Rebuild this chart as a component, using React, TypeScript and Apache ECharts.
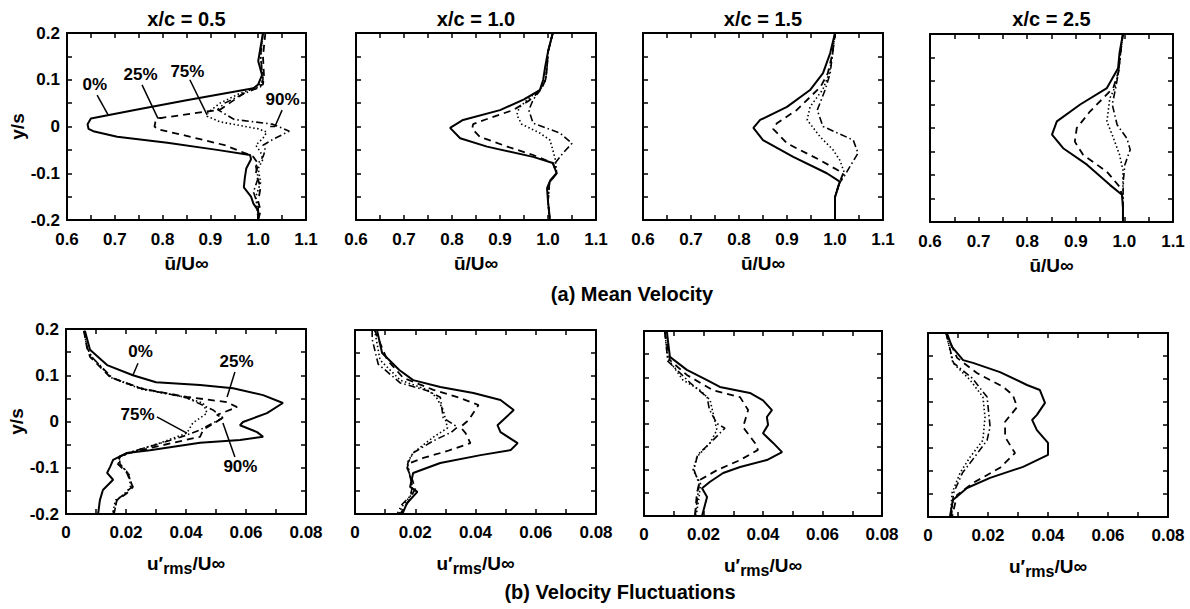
import React, { useEffect, useRef } from 'react';
import * as echarts from 'echarts';

// ---------- text / ticks ----------
const STATION_TITLES = ['x/c = 0.5', 'x/c = 1.0', 'x/c = 1.5', 'x/c = 2.5'];
const SECTION_TITLES = ['(a) Mean Velocity', '(b) Velocity Fluctuations'];
const U_TICKS = [0.6, 0.7, 0.8, 0.9, 1.0, 1.1];
const RMS_TICKS = [0, 0.02, 0.04, 0.06, 0.08];
const Y_TICKS = [-0.2, -0.1, 0, 0.1, 0.2];
const CASES = ['0%', '25%', '75%', '90%'];

// ---------- (a) mean velocity, [u/Uinf, y/s] ----------
const MEAN_05_0 = [[1.01,0.2],[1.005,0.17],[1.0,0.14],[1.008,0.11],[1.0,0.09],[0.99,0.082],[0.85,0.056],[0.75,0.037],[0.65,0.017],[0.643,0.005],[0.645,-0.005],[0.655,-0.01],[0.705,-0.022],[0.81,-0.035],[0.914,-0.05],[0.983,-0.061],[0.985,-0.07],[0.975,-0.09],[0.972,-0.11],[0.97,-0.13],[0.985,-0.15],[0.99,-0.165],[1.0,-0.18],[1.0,-0.2]];
const MEAN_05_25 = [[1.015,0.2],[1.01,0.15],[1.012,0.11],[1.01,0.09],[0.98,0.078],[0.94,0.05],[0.92,0.036],[0.85,0.026],[0.795,0.018],[0.785,0.01],[0.783,0.0],[0.79,-0.006],[0.85,-0.02],[0.93,-0.04],[0.975,-0.058],[0.99,-0.065],[1.0,-0.08],[0.995,-0.1],[1.005,-0.13],[1.0,-0.16],[1.005,-0.18],[1.0,-0.2]];
const MEAN_05_75 = [[1.01,0.2],[1.005,0.15],[1.01,0.1],[1.0,0.085],[0.96,0.07],[0.92,0.05],[0.895,0.03],[0.893,0.022],[0.92,0.01],[1.0,-0.005],[1.018,-0.012],[1.01,-0.025],[0.995,-0.04],[1.005,-0.055],[1.01,-0.07],[1.0,-0.09],[1.005,-0.12],[0.995,-0.15],[1.0,-0.2]];
const MEAN_05_90 = [[1.01,0.2],[1.005,0.15],[1.01,0.1],[1.005,0.085],[0.97,0.07],[0.93,0.05],[0.915,0.036],[0.95,0.015],[1.03,0.005],[1.065,-0.01],[1.03,-0.028],[1.01,-0.04],[1.015,-0.05],[1.01,-0.065],[0.995,-0.085],[1.0,-0.11],[0.99,-0.14],[1.0,-0.17],[1.0,-0.2]];

const MEAN_10_0 = [[1.01,0.2],[1.0,0.16],[0.994,0.127],[0.99,0.1],[0.983,0.078],[0.95,0.058],[0.9,0.035],[0.823,0.014],[0.796,-0.003],[0.817,-0.025],[0.873,-0.043],[0.969,-0.065],[1.01,-0.078],[1.018,-0.1],[1.005,-0.115],[0.998,-0.132],[1.0,-0.16],[1.002,-0.18],[1.004,-0.2]];
const MEAN_10_25 = [[1.01,0.2],[1.0,0.16],[0.998,0.127],[0.995,0.1],[0.985,0.078],[0.96,0.055],[0.927,0.035],[0.87,0.015],[0.844,0.005],[0.842,-0.005],[0.858,-0.022],[0.915,-0.043],[0.969,-0.061],[1.01,-0.078],[1.018,-0.1],[1.003,-0.12],[1.0,-0.16],[1.004,-0.2]];
const MEAN_10_75 = [[1.01,0.2],[1.0,0.16],[0.998,0.127],[0.995,0.1],[0.985,0.08],[0.963,0.063],[0.94,0.04],[0.935,0.025],[0.945,0.005],[0.983,-0.014],[1.004,-0.029],[1.01,-0.05],[1.015,-0.07],[1.018,-0.1],[1.003,-0.12],[1.0,-0.16],[1.004,-0.2]];
const MEAN_10_90 = [[1.01,0.2],[1.0,0.16],[0.998,0.127],[0.995,0.1],[0.985,0.08],[0.969,0.057],[0.96,0.035],[0.969,0.007],[1.025,-0.014],[1.05,-0.036],[1.031,-0.057],[1.015,-0.078],[1.018,-0.1],[1.003,-0.12],[1.0,-0.16],[1.004,-0.2]];

const MEAN_15_0 = [[1.0,0.2],[0.99,0.157],[0.975,0.114],[0.948,0.078],[0.9,0.042],[0.844,0.014],[0.83,-0.003],[0.85,-0.029],[0.913,-0.065],[0.983,-0.1],[1.01,-0.118],[1.0,-0.151],[1.0,-0.2]];
const MEAN_15_25 = [[1.0,0.2],[0.995,0.157],[0.985,0.114],[0.97,0.085],[0.92,0.035],[0.879,0.007],[0.871,-0.005],[0.9,-0.036],[0.969,-0.072],[1.017,-0.1],[1.01,-0.118],[1.0,-0.151],[1.0,-0.2]];
const MEAN_15_75 = [[1.0,0.2],[0.995,0.157],[0.988,0.114],[0.975,0.08],[0.948,0.042],[0.942,0.014],[0.969,-0.022],[0.996,-0.05],[1.01,-0.072],[1.02,-0.1],[1.01,-0.118],[1.0,-0.151],[1.0,-0.2]];
const MEAN_15_90 = [[1.0,0.2],[0.995,0.157],[0.99,0.114],[0.98,0.08],[0.963,0.035],[0.975,0.0],[1.038,-0.029],[1.048,-0.057],[1.031,-0.086],[1.02,-0.105],[1.01,-0.12],[1.0,-0.151],[1.0,-0.2]];

const MEAN_25_0 = [[0.997,0.2],[0.99,0.16],[0.987,0.127],[0.964,0.085],[0.909,0.05],[0.861,0.014],[0.851,-0.014],[0.874,-0.043],[0.923,-0.078],[0.97,-0.121],[0.995,-0.142],[0.997,-0.17],[0.997,-0.2]];
const MEAN_25_25 = [[0.997,0.2],[0.992,0.16],[0.988,0.12],[0.977,0.085],[0.929,0.035],[0.902,0.0],[0.898,-0.029],[0.915,-0.057],[0.964,-0.093],[0.99,-0.125],[0.997,-0.15],[0.997,-0.2]];
const MEAN_25_75 = [[0.997,0.2],[0.992,0.16],[0.988,0.12],[0.98,0.085],[0.97,0.063],[0.964,0.014],[0.977,-0.02],[0.99,-0.057],[0.997,-0.09],[0.997,-0.13],[0.997,-0.2]];
const MEAN_25_90 = [[0.997,0.2],[0.992,0.16],[0.988,0.12],[0.982,0.085],[0.975,0.05],[0.985,0.007],[1.005,-0.022],[1.012,-0.046],[1.001,-0.078],[0.998,-0.11],[0.997,-0.15],[0.997,-0.2]];

// ---------- (b) velocity fluctuations, [u'rms/Uinf, y/s] ----------
const RMS_05_0 = [[0.0063,0.196],[0.008,0.155],[0.0137,0.122],[0.0223,0.1],[0.03,0.085],[0.0447,0.079],[0.0557,0.072],[0.0657,0.057],[0.0723,0.04],[0.067,0.018],[0.059,-0.001],[0.058,-0.008],[0.0637,-0.023],[0.0657,-0.033],[0.058,-0.04],[0.0447,-0.046],[0.028,-0.062],[0.0203,-0.068],[0.0157,-0.083],[0.0147,-0.098],[0.0137,-0.111],[0.0157,-0.126],[0.0123,-0.148],[0.0113,-0.17],[0.0107,-0.2]];
const RMS_05_25 = [[0.006,0.196],[0.007,0.16],[0.008,0.14],[0.0147,0.096],[0.0247,0.072],[0.0403,0.053],[0.0537,0.042],[0.057,0.031],[0.0503,0.014],[0.0523,0.008],[0.0457,-0.018],[0.0447,-0.033],[0.0357,-0.046],[0.0223,-0.066],[0.018,-0.075],[0.017,-0.09],[0.0203,-0.111],[0.0223,-0.142],[0.0203,-0.155],[0.017,-0.17],[0.0157,-0.2]];
const RMS_05_75 = [[0.006,0.196],[0.007,0.16],[0.0085,0.14],[0.015,0.095],[0.025,0.07],[0.038,0.055],[0.0457,0.04],[0.047,0.018],[0.0423,-0.003],[0.0403,-0.025],[0.032,-0.045],[0.022,-0.066],[0.018,-0.076],[0.0175,-0.09],[0.021,-0.113],[0.0215,-0.14],[0.02,-0.155],[0.0165,-0.17],[0.0155,-0.2]];
const RMS_05_90 = [[0.006,0.196],[0.007,0.16],[0.0085,0.14],[0.0155,0.094],[0.026,0.07],[0.04,0.052],[0.049,0.025],[0.0523,0.008],[0.049,-0.003],[0.0447,-0.018],[0.04,-0.03],[0.03,-0.05],[0.021,-0.067],[0.0178,-0.078],[0.018,-0.092],[0.0205,-0.11],[0.0222,-0.14],[0.0195,-0.156],[0.017,-0.17],[0.016,-0.2]];

const RMS_10_0 = [[0.0073,0.2],[0.009,0.15],[0.0147,0.113],[0.0193,0.091],[0.0283,0.076],[0.0393,0.063],[0.0483,0.048],[0.0527,0.026],[0.0473,-0.007],[0.0483,-0.022],[0.054,-0.046],[0.0517,-0.061],[0.0417,-0.072],[0.0283,-0.089],[0.0193,-0.111],[0.0183,-0.141],[0.0207,-0.152],[0.0173,-0.176],[0.0157,-0.2]];
const RMS_10_25 = [[0.0065,0.2],[0.0107,0.135],[0.016,0.096],[0.026,0.07],[0.034,0.054],[0.041,0.037],[0.0377,0.004],[0.035,-0.011],[0.0367,-0.024],[0.0383,-0.046],[0.0307,-0.063],[0.0227,-0.078],[0.018,-0.09],[0.0173,-0.1],[0.019,-0.125],[0.02,-0.145],[0.018,-0.17],[0.015,-0.2]];
const RMS_10_75 = [[0.0065,0.2],[0.0083,0.135],[0.015,0.091],[0.024,0.07],[0.027,0.054],[0.0293,0.026],[0.0307,-0.013],[0.026,-0.033],[0.0193,-0.067],[0.0173,-0.089],[0.018,-0.11],[0.019,-0.14],[0.0185,-0.16],[0.016,-0.18],[0.0145,-0.2]];
const RMS_10_90 = [[0.0057,0.2],[0.0057,0.18],[0.0077,0.126],[0.015,0.085],[0.024,0.068],[0.0283,0.054],[0.0293,0.009],[0.034,-0.011],[0.032,-0.022],[0.026,-0.041],[0.0193,-0.067],[0.0175,-0.09],[0.018,-0.11],[0.019,-0.14],[0.0185,-0.16],[0.0155,-0.18],[0.014,-0.2]];

const RMS_15_0 = [[0.0077,0.198],[0.0087,0.144],[0.0144,0.116],[0.0212,0.094],[0.0255,0.079],[0.0356,0.066],[0.04,0.05],[0.043,0.029],[0.0413,0.014],[0.0417,-0.003],[0.04,-0.021],[0.0434,-0.042],[0.0464,-0.062],[0.0413,-0.079],[0.0323,-0.094],[0.0266,-0.107],[0.0222,-0.126],[0.0195,-0.14],[0.0212,-0.159],[0.0195,-0.2]];
const RMS_15_25 = [[0.007,0.198],[0.0087,0.137],[0.0144,0.105],[0.0232,0.072],[0.0323,0.057],[0.035,0.029],[0.0333,-0.008],[0.0373,-0.042],[0.0383,-0.057],[0.0323,-0.079],[0.0245,-0.101],[0.0188,-0.122],[0.0178,-0.15],[0.0171,-0.2]];
const RMS_15_75 = [[0.007,0.198],[0.008,0.14],[0.0131,0.094],[0.0188,0.072],[0.0222,0.051],[0.0232,0.023],[0.0245,-0.014],[0.0222,-0.042],[0.0178,-0.072],[0.0165,-0.101],[0.019,-0.13],[0.0185,-0.16],[0.0175,-0.2]];
const RMS_15_90 = [[0.007,0.198],[0.008,0.135],[0.0155,0.088],[0.0212,0.057],[0.022,0.03],[0.0245,0.0],[0.0272,-0.01],[0.0232,-0.036],[0.018,-0.068],[0.0168,-0.1],[0.0185,-0.13],[0.018,-0.16],[0.0172,-0.2]];

const RMS_25_0 = [[0.0063,0.2],[0.008,0.17],[0.0117,0.141],[0.015,0.135],[0.024,0.115],[0.033,0.087],[0.0373,0.076],[0.039,0.048],[0.0363,0.022],[0.0347,0.011],[0.0363,-0.011],[0.04,-0.039],[0.04,-0.065],[0.0317,-0.091],[0.0207,-0.115],[0.013,-0.137],[0.0083,-0.163],[0.0073,-0.2]];
const RMS_25_25 = [[0.006,0.2],[0.0097,0.146],[0.0163,0.113],[0.025,0.083],[0.0283,0.065],[0.0297,0.039],[0.0257,0.007],[0.0257,-0.026],[0.029,-0.061],[0.024,-0.093],[0.015,-0.126],[0.0097,-0.152],[0.008,-0.2]];
const RMS_25_75 = [[0.006,0.2],[0.0083,0.135],[0.014,0.098],[0.0183,0.061],[0.019,0.017],[0.0183,-0.033],[0.014,-0.07],[0.0107,-0.104],[0.008,-0.148],[0.0075,-0.2]];
const RMS_25_90 = [[0.006,0.2],[0.0085,0.135],[0.0147,0.102],[0.0197,0.061],[0.0207,-0.004],[0.0197,-0.033],[0.0155,-0.07],[0.0115,-0.104],[0.0085,-0.148],[0.0078,-0.2]];

const MEAN_PANELS = [
  [MEAN_05_0, MEAN_05_25, MEAN_05_75, MEAN_05_90],
  [MEAN_10_0, MEAN_10_25, MEAN_10_75, MEAN_10_90],
  [MEAN_15_0, MEAN_15_25, MEAN_15_75, MEAN_15_90],
  [MEAN_25_0, MEAN_25_25, MEAN_25_75, MEAN_25_90],
];
const RMS_PANELS = [
  [RMS_05_0, RMS_05_25, RMS_05_75, RMS_05_90],
  [RMS_10_0, RMS_10_25, RMS_10_75, RMS_10_90],
  [RMS_15_0, RMS_15_25, RMS_15_75, RMS_15_90],
  [RMS_25_0, RMS_25_25, RMS_25_75, RMS_25_90],
];

// annotations (data coordinates): label centre and leader polyline
const ANNOTATIONS = [
  { panel: 0, text: '0%', at: [0.659, 0.089], leader: [[0.663, 0.067], [0.686, 0.025]] },
  { panel: 0, text: '25%', at: [0.755, 0.11], leader: [[0.757, 0.089], [0.79, 0.018], [0.8, 0.018]] },
  { panel: 0, text: '75%', at: [0.853, 0.117], leader: [[0.857, 0.1], [0.893, 0.025]] },
  { panel: 0, text: '90%', at: [1.052, 0.057], leader: [[1.05, 0.035], [1.035, 0.0], [1.025, 0.0]] },
  { panel: 4, text: '0%', at: [0.025, 0.15], leader: [[0.024, 0.126], [0.0223, 0.1]] },
  { panel: 4, text: '25%', at: [0.057, 0.129], leader: [[0.0563, 0.107], [0.0537, 0.053]] },
  { panel: 4, text: '75%', at: [0.024, 0.014], leader: [[0.0303, 0.01], [0.0403, -0.025]] },
  { panel: 4, text: '90%', at: [0.0583, -0.098], leader: [[0.0563, -0.077], [0.0523, -0.003]] },
];

// ---------- layout / style ----------
const BOXES = [
  [67, 33, 239, 187], [356, 33, 240, 187], [643, 33, 240, 187], [930, 34, 243, 188],
  [66, 329, 240, 185], [355, 330, 241, 184], [644, 331, 238, 185], [928, 333, 240, 184],
];
const FONT = '"Liberation Sans", Arial, Helvetica, sans-serif';
const CASE_STYLES: any[] = [
  { type: 'solid', width: 2 },
  { type: [7, 5], width: 1.8 },
  { type: [1.5, 2.5], width: 1.6 },
  { type: [7, 3, 1.5, 3], width: 1.6 },
];

const fmt = (d: number) => (v: number) => (Math.abs(v) < 1e-9 ? '0' : v.toFixed(d));

export default function App() {
  const ref = useRef<HTMLDivElement>(null);
  useEffect(() => {
    document.body.style.margin = '0';
    const chart = echarts.init(ref.current!, null, { renderer: 'svg' });

    const grids: any[] = [];
    const xAxes: any[] = [];
    const yAxes: any[] = [];
    const series: any[] = [];

    const mkLine = () => ({ show: true, onZero: false, lineStyle: { color: '#000', width: 2 } });
    const mkTick = () => ({ show: true, inside: true, length: 5, lineStyle: { color: '#000', width: 1.5 } });
    const mkMinor = () => ({ show: true, splitNumber: 2, length: 5, lineStyle: { color: '#000', width: 1.5 } });

    BOXES.forEach((b, i) => {
      const top = i < 4;
      const col = i % 4;
      grids.push({ left: b[0], top: b[1], width: b[2], height: b[3], containLabel: false });
      const ticks = top ? U_TICKS : RMS_TICKS;
      const xBase = () => ({
        type: 'value', gridIndex: i, min: ticks[0], max: ticks[ticks.length - 1],
        interval: ticks[1] - ticks[0], axisLine: mkLine(), axisTick: mkTick(), minorTick: mkMinor(),
        splitLine: { show: false }, minorSplitLine: { show: false },
      });
      xAxes.push({
        ...xBase(), position: 'bottom',
        axisLabel: {
          show: true, margin: top ? 11 : 10, color: '#000', fontSize: 17, fontWeight: 'bold', fontFamily: FONT,
          formatter: fmt(top ? 1 : 2),
        },
        name: top ? 'ū/U∞' : '{a|u′}{s|rms}{a|/U∞}',
        nameLocation: 'middle',
        nameGap: top ? 34 : 36,
        nameTextStyle: {
          color: '#000', fontSize: 19, fontWeight: 'bold', fontFamily: FONT,
          rich: {
            a: { fontSize: 19, fontWeight: 'bold', fontFamily: FONT, color: '#000' },
            s: { fontSize: 16, fontWeight: 'bold', fontFamily: FONT, color: '#000', padding: [10, 0, 0, 0] },
          },
        },
      });
      xAxes.push({ ...xBase(), position: 'top', axisLabel: { show: false } });
      const yBase = () => ({
        type: 'value', gridIndex: i, min: Y_TICKS[0], max: Y_TICKS[Y_TICKS.length - 1],
        interval: Y_TICKS[1] - Y_TICKS[0], axisLine: mkLine(), axisTick: mkTick(), minorTick: mkMinor(),
        splitLine: { show: false }, minorSplitLine: { show: false },
      });
      yAxes.push({
        ...yBase(), position: 'left',
        axisLabel: {
          show: col === 0, margin: 7, color: '#000', fontSize: 17, fontWeight: 'bold', fontFamily: FONT,
          formatter: fmt(1),
        },
        name: col === 0 ? 'y/s' : '',
        nameLocation: 'middle', nameRotate: 90, nameGap: 34,
        nameTextStyle: { color: '#000', fontSize: 19, fontWeight: 'bold', fontFamily: FONT },
      });
      yAxes.push({ ...yBase(), position: 'right', axisLabel: { show: false } });

      const curves = top ? MEAN_PANELS[col] : RMS_PANELS[col];
      curves.forEach((data, c) => {
        series.push({
          type: 'line', name: CASES[c], xAxisIndex: 2 * i, yAxisIndex: 2 * i, data,
          symbol: 'none', silent: true, z: 3,
          lineStyle: { color: '#000', ...CASE_STYLES[c] },
        });
      });
    });

    ANNOTATIONS.forEach((a) => {
      series.push({
        type: 'line', xAxisIndex: 2 * a.panel, yAxisIndex: 2 * a.panel, data: a.leader,
        symbol: 'none', silent: true, lineStyle: { color: '#000', width: 1.5 },
      });
      series.push({
        type: 'scatter', xAxisIndex: 2 * a.panel, yAxisIndex: 2 * a.panel, data: [a.at],
        symbolSize: 1, silent: true, itemStyle: { color: 'rgba(0,0,0,0)', opacity: 1 },
        label: {
          show: true, position: [0, 0], align: 'center', verticalAlign: 'middle',
          formatter: a.text, color: '#000', textBorderWidth: 0, opacity: 1,
          fontSize: 17, fontWeight: 'bold', fontFamily: FONT,
        },
      });
    });

    const graphics: any[] = STATION_TITLES.map((t, i) => ({
      type: 'text', x: BOXES[i][0] + BOXES[i][2] / 2, y: 19,
      style: { text: t, fill: '#000', font: `bold 20px ${FONT}`, align: 'center', verticalAlign: 'middle' },
    }));
    graphics.push({
      type: 'text', x: 632, y: 294,
      style: { text: SECTION_TITLES[0], fill: '#000', font: `bold 20px ${FONT}`, align: 'center', verticalAlign: 'middle' },
    });
    graphics.push({
      type: 'text', x: 620, y: 592,
      style: { text: SECTION_TITLES[1], fill: '#000', font: `bold 20px ${FONT}`, align: 'center', verticalAlign: 'middle' },
    });

    chart.setOption({
      animation: false,
      backgroundColor: '#fff',
      textStyle: { fontFamily: FONT },
      grid: grids,
      xAxis: xAxes,
      yAxis: yAxes,
      series,
      graphic: graphics,
    });
    return () => chart.dispose();
  }, []);
  return <div ref={ref} style={{ width: 1190, height: 609 }} />;
}
